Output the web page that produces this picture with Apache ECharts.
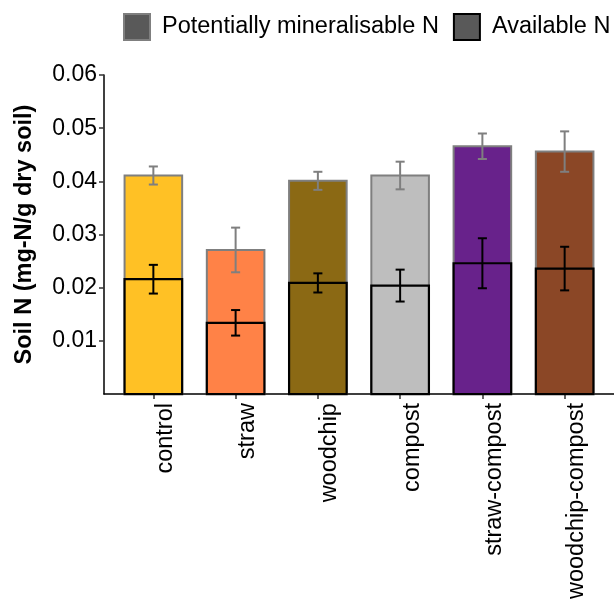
<!DOCTYPE html>
<html>
<head>
<meta charset="utf-8">
<script src="https://cdn.jsdelivr.net/npm/echarts@6/dist/echarts.min.js"></script>
<style>html,body{margin:0;padding:0;background:#fff}#c{width:614px;height:602px}</style>
</head>
<body>
<div id="c"></div>
<script>
const categories = ['control', 'straw', 'woodchip', 'compost', 'straw-compost', 'woodchip-compost'];
const potentialN = [0.0411, 0.0271, 0.0401, 0.0411, 0.0466, 0.0456];
const potentialSE = [0.0017, 0.0042, 0.0017, 0.0026, 0.0024, 0.0038];
const availableN = [0.0216, 0.0134, 0.0209, 0.0204, 0.0246, 0.0236];
const availableSE = [0.0027, 0.0024, 0.0018, 0.0030, 0.0047, 0.0041];
const yTicks = [0.01, 0.02, 0.03, 0.04, 0.05, 0.06];
const fillColors = ['#FFC125', '#FF8247', '#8B6914', '#BEBEBE', '#68228B', '#8B4726'];

const FONT = '"Liberation Sans", Arial, Helvetica, sans-serif';
const FS = 23.5;
const BAR_W = 0.7, CAP_W = 0.11;

function barRender(stroke, lw) {
  return function (params, api) {
    const x = api.value(0), y = api.value(1);
    const p0 = api.coord([x - BAR_W / 2, y]);
    const p1 = api.coord([x + BAR_W / 2, 0]);
    return {
      type: 'rect',
      shape: { x: p0[0], y: p0[1], width: p1[0] - p0[0], height: p1[1] - p0[1] },
      style: { fill: fillColors[params.dataIndex], stroke: stroke, lineWidth: lw }
    };
  };
}
function errRender(stroke) {
  return function (params, api) {
    const x = api.value(0), m = api.value(1), e = api.value(2);
    const top = api.coord([x, m + e]);
    const bot = api.coord([x, m - e]);
    const cl = api.coord([x - CAP_W / 2, m])[0];
    const cr = api.coord([x + CAP_W / 2, m])[0];
    const st = { stroke: stroke, lineWidth: 2, fill: null };
    return {
      type: 'group',
      children: [
        { type: 'line', shape: { x1: top[0], y1: top[1], x2: bot[0], y2: bot[1] }, style: st },
        { type: 'line', shape: { x1: cl, y1: top[1], x2: cr, y2: top[1] }, style: st },
        { type: 'line', shape: { x1: cl, y1: bot[1], x2: cr, y2: bot[1] }, style: st }
      ]
    };
  };
}

const potData = potentialN.map((v, i) => [i + 1, v]);
const avData = availableN.map((v, i) => [i + 1, v]);
const potErr = potentialN.map((v, i) => [i + 1, v, potentialSE[i]]);
const avErr = availableN.map((v, i) => [i + 1, v, availableSE[i]]);

const chart = echarts.init(document.getElementById('c'), null, { renderer: 'canvas' });
chart.setOption({
  animation: false,
  backgroundColor: '#ffffff',
  textStyle: { fontFamily: FONT },
  legend: {
    left: 123, top: 13, padding: 0,
    itemWidth: 26, itemHeight: 26, itemGap: 14,
    icon: 'rect',
    textStyle: { fontSize: FS, color: '#000', fontFamily: FONT, padding: [0, 0, 0, 7] },
    data: [
      { name: 'Potentially mineralisable N', itemStyle: { color: '#595959', borderColor: '#7F7F7F', borderWidth: 2 } },
      { name: 'Available N', itemStyle: { color: '#595959', borderColor: '#000000', borderWidth: 2 } }
    ]
  },
  grid: { left: 104, right: -3, top: 75, bottom: 207, containLabel: false },
  xAxis: {
    type: 'value', min: 0.4, max: 6.6,
    splitLine: { show: false },
    axisLine: { show: true, onZero: false, lineStyle: { color: '#000', width: 1.5 } },
    axisTick: { show: true, length: 5, customValues: [1, 2, 3, 4, 5, 6], lineStyle: { color: '#333', width: 1.5 } },
    axisLabel: {
      customValues: [1, 2, 3, 4, 5, 6],
      rotate: 90, margin: 9, fontSize: FS, color: '#000', fontFamily: FONT,
      align: 'right', verticalAlign: 'top',
      formatter: v => categories[Math.round(v) - 1] || ''
    }
  },
  yAxis: {
    type: 'value', min: 0, max: 0.06,
    name: 'Soil N (mg-N/g dry soil)', nameLocation: 'middle', nameGap: 67,
    nameTextStyle: { fontSize: FS, fontWeight: 'bold', color: '#000', fontFamily: FONT },
    splitLine: { show: false },
    axisLine: { show: true, lineStyle: { color: '#000', width: 1.5 } },
    axisTick: { show: true, length: 5, customValues: yTicks, lineStyle: { color: '#333', width: 1.5 } },
    axisLabel: {
      customValues: yTicks, margin: 7, fontSize: 23, color: '#000', fontFamily: FONT,
      formatter: v => v.toFixed(2)
    }
  },
  series: [
    { name: 'Potentially mineralisable N', type: 'custom', renderItem: barRender('#7F7F7F', 2),
      itemStyle: { color: '#595959', borderColor: '#7F7F7F', borderWidth: 2 },
      encode: { x: 0, y: 1 }, data: potData, z: 2 },
    { name: 'potErr', type: 'custom', renderItem: errRender('#7F7F7F'),
      encode: { x: 0, y: [1] }, data: potErr, z: 3 },
    { name: 'Available N', type: 'custom', renderItem: barRender('#000000', 2.2),
      itemStyle: { color: '#595959', borderColor: '#000', borderWidth: 2 },
      encode: { x: 0, y: 1 }, data: avData, z: 4 },
    { name: 'avErr', type: 'custom', renderItem: errRender('#000000'),
      encode: { x: 0, y: [1] }, data: avErr, z: 5 }
  ]
});
</script>
</body>
</html>
